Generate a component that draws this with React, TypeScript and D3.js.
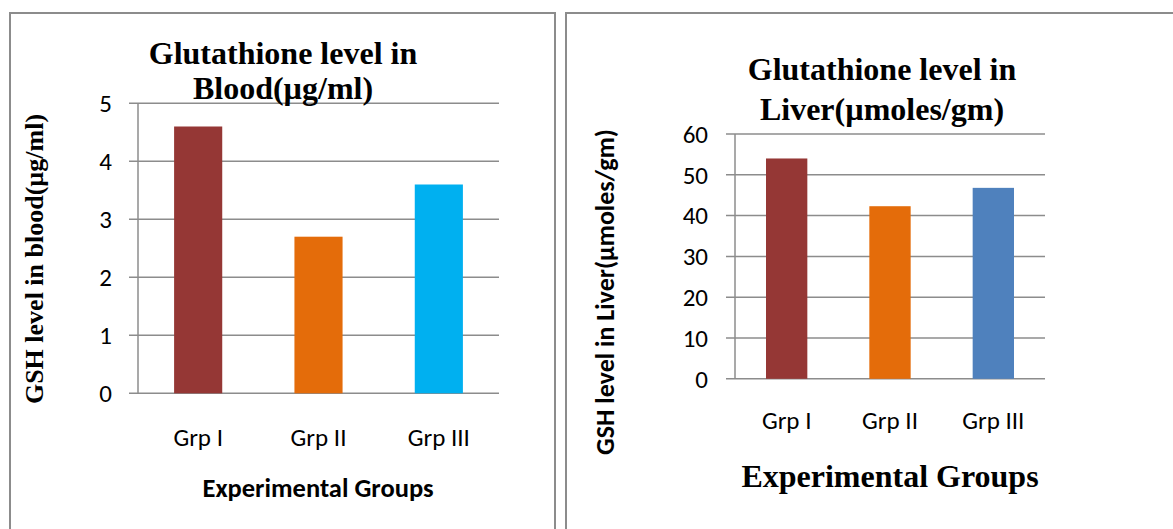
import React from "react";
import * as d3 from "d3";

// Group labels shared by both panels
const groups = ["Grp I", "Grp II", "Grp III"];

// Blood GSH (µg/ml)
const bloodValues = [4.6, 2.7, 3.6];
const bloodTicks = [0, 1, 2, 3, 4, 5];
const bloodColors = ["#953735", "#E46C0A", "#00B0F0"];

// Liver GSH (µmoles/gm)
const liverValues = [54, 42.3, 46.8];
const liverTicks = [0, 10, 20, 30, 40, 50, 60];
const liverColors = ["#953735", "#E46C0A", "#4F81BD"];

const SERIF = "'Liberation Serif', 'Times New Roman', serif";
const SANS = "Carlito, Calibri, 'Open Sans', sans-serif";
const GRID = "#8c8c8c";

type PanelProps = {
  box: { x: number; w: number };
  plot: { x0: number; x1: number; y0: number; y1: number };
  values: number[];
  ticks: number[];
  colors: string[];
  title: { lines: string[]; cx: number; baselines: number[]; size: number };
  yLabel: { text: string; cx: number; cy: number; font: string; size: number };
  xLabel: { text: string; cx: number; y: number; font: string; size: number };
  catY: number;
  tickRight: number;
  labelSize: number;
};

function Panel(p: PanelProps) {
  const x = d3
    .scaleBand<string>()
    .domain(groups)
    .range([p.plot.x0, p.plot.x1])
    .paddingInner(0.6)
    .paddingOuter(0.3);
  const y = d3
    .scaleLinear()
    .domain([0, p.ticks[p.ticks.length - 1]])
    .range([p.plot.y0, p.plot.y1]);

  return (
    <g>
      <rect
        x={p.box.x}
        y={13}
        width={p.box.w}
        height={560}
        fill="#fff"
        stroke={GRID}
        strokeWidth={2}
      />
      {/* gridlines with outside tick marks */}
      {p.ticks.map((t) => (
        <line
          key={`g${t}`}
          x1={p.plot.x0 - 9}
          x2={p.plot.x1}
          y1={y(t)}
          y2={y(t)}
          stroke={GRID}
          strokeWidth={1.5}
        />
      ))}
      <line
        x1={p.plot.x0}
        x2={p.plot.x0}
        y1={y(p.ticks[p.ticks.length - 1])}
        y2={y(0)}
        stroke={GRID}
        strokeWidth={1.5}
      />
      {p.values.map((v, i) => (
        <rect
          key={groups[i]}
          x={x(groups[i])}
          y={y(v)}
          width={x.bandwidth()}
          height={y(0) - y(v)}
          fill={p.colors[i]}
        />
      ))}
      {p.ticks.map((t) => (
        <text
          key={`t${t}`}
          x={p.tickRight}
          y={y(t)}
          dy="0.35em"
          textAnchor="end"
          fontFamily={SANS}
          fontSize={p.labelSize}
          fill="#000"
        >
          {t}
        </text>
      ))}
      {groups.map((g) => (
        <text
          key={`c${g}`}
          x={(x(g) as number) + x.bandwidth() / 2}
          y={p.catY}
          textAnchor="middle"
          fontFamily={SANS}
          fontSize={p.labelSize}
          fill="#000"
        >
          {g}
        </text>
      ))}
      {p.title.lines.map((l, i) => (
        <text
          key={`h${i}`}
          x={p.title.cx}
          y={p.title.baselines[i]}
          textAnchor="middle"
          fontFamily={SERIF}
          fontWeight="bold"
          fontSize={p.title.size}
          fill="#000"
        >
          {l}
        </text>
      ))}
      <text
        transform={`translate(${p.yLabel.cx},${p.yLabel.cy}) rotate(-90)`}
        textAnchor="middle"
        dy="0.35em"
        fontFamily={p.yLabel.font}
        fontWeight="bold"
        fontSize={p.yLabel.size}
        fill="#000"
      >
        {p.yLabel.text}
      </text>
      <text
        x={p.xLabel.cx}
        y={p.xLabel.y}
        textAnchor="middle"
        fontFamily={p.xLabel.font}
        fontWeight="bold"
        fontSize={p.xLabel.size}
        fill="#000"
      >
        {p.xLabel.text}
      </text>
    </g>
  );
}

export default function App() {
  return (
    <svg
      width={1173}
      height={529}
      style={{ position: "absolute", left: 0, top: 0, background: "#fff" }}
    >
      <rect x={0} y={0} width={1173} height={529} fill="#fff" />
      <Panel
        box={{ x: 10, w: 545 }}
        plot={{ x0: 138, x1: 499, y0: 393.3, y1: 103.3 }}
        values={bloodValues}
        ticks={bloodTicks}
        colors={bloodColors}
        title={{
          lines: ["Glutathione level in", "Blood(µg/ml)"],
          cx: 283,
          baselines: [64, 99],
          size: 32,
        }}
        yLabel={{
          text: "GSH level in blood(µg/ml)",
          cx: 34,
          cy: 259,
          font: SERIF,
          size: 26,
        }}
        xLabel={{ text: "Experimental Groups", cx: 318, y: 497, font: SANS, size: 26.5 }}
        catY={446}
        tickRight={112}
        labelSize={25}
      />
      <Panel
        box={{ x: 566, w: 640 }}
        plot={{ x0: 735, x1: 1045, y0: 378.8, y1: 134 }}
        values={liverValues}
        ticks={liverTicks}
        colors={liverColors}
        title={{
          lines: ["Glutathione level in", "Liver(µmoles/gm)"],
          cx: 882,
          baselines: [80, 120],
          size: 32,
        }}
        yLabel={{
          text: "GSH level in Liver(µmoles/gm)",
          cx: 605,
          cy: 292,
          font: SANS,
          size: 26,
        }}
        xLabel={{ text: "Experimental Groups", cx: 890, y: 487, font: SERIF, size: 32 }}
        catY={429}
        tickRight={708}
        labelSize={25}
      />
    </svg>
  );
}
